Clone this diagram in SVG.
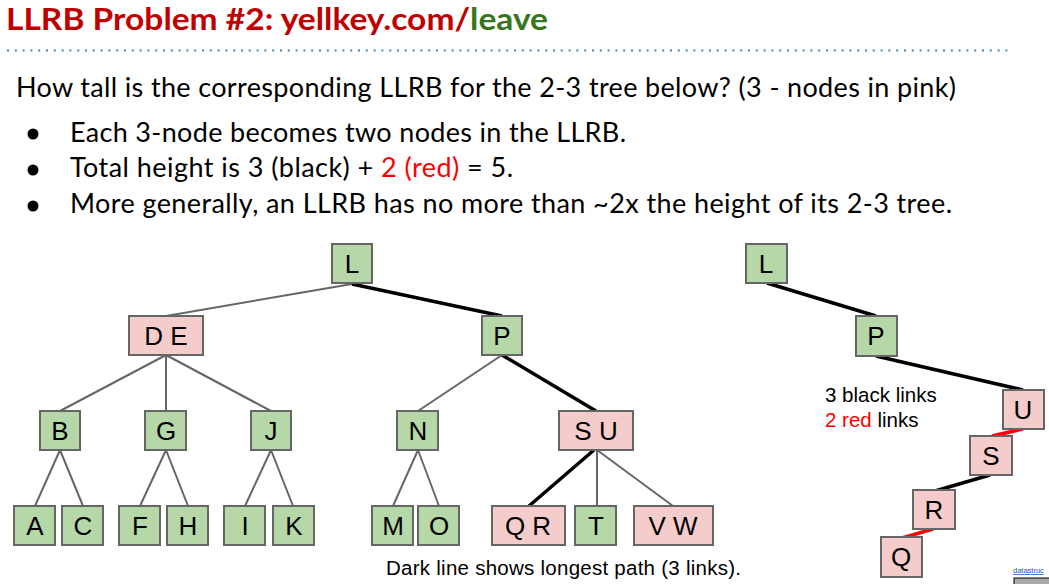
<svg xmlns="http://www.w3.org/2000/svg" width="1049" height="584" viewBox="0 0 1049 584">
<style>
.g{fill:#b6d7a8;stroke:#666;stroke-width:2}
.p{fill:#f4cccc;stroke:#666;stroke-width:2}
.lbl{font-family:"Liberation Sans",Arial,sans-serif;font-size:26px;fill:#000;text-anchor:middle}
.e{stroke:#666;stroke-width:2;fill:none}
.k{stroke:#000;stroke-width:3.5;fill:none}
.r{stroke:#ff0000;stroke-width:3.5;fill:none}
.body{font-family:Lato,"Liberation Sans",sans-serif;font-size:27px;fill:#000}
.note{font-family:"Liberation Sans",Arial,sans-serif;font-size:20.5px;fill:#000}
</style>
<rect width="1049" height="584" fill="#fff"/>
<text x="6" y="30" font-family="Lato,'Liberation Sans',sans-serif" font-weight="bold" font-size="30" textLength="542" lengthAdjust="spacingAndGlyphs"><tspan fill="#c00000">LLRB Problem #2: yellkey.com/</tspan><tspan fill="#38761d">leave</tspan></text>
<line x1="7" y1="50.5" x2="1012" y2="50.5" stroke="#3d85c6" stroke-width="2" stroke-dasharray="2 5.8"/>
<text class="body" x="16" y="97" textLength="940">How tall is the corresponding LLRB for the 2-3 tree below? (3 - nodes in pink)</text>
<g fill="#000"><circle cx="33" cy="134" r="5.5"/><circle cx="33" cy="170" r="5.5"/><circle cx="33" cy="206" r="5.5"/></g>
<text class="body" x="70" y="142" textLength="556">Each 3-node becomes two nodes in the LLRB.</text>
<text class="body" x="70" y="177" textLength="443">Total height is 3 (black) + <tspan fill="#ff0000">2 (red)</tspan> = 5.</text>
<text class="body" x="70" y="213" textLength="882">More generally, an LLRB has no more than ~2x the height of its 2-3 tree.</text>
<g id="connectors">
<line class="e" x1="352" y1="284" x2="166" y2="316"/>
<line class="k" x1="352" y1="284" x2="502" y2="316"/>
<line class="e" x1="166" y1="355" x2="60" y2="411"/>
<line class="e" x1="166" y1="355" x2="166" y2="411"/>
<line class="e" x1="166" y1="355" x2="271" y2="411"/>
<line class="e" x1="502" y1="355" x2="418" y2="411"/>
<line class="k" x1="502" y1="355" x2="596" y2="411"/>
<line class="e" x1="60" y1="450" x2="35" y2="506"/>
<line class="e" x1="60" y1="450" x2="83" y2="506"/>
<line class="e" x1="166" y1="450" x2="140" y2="506"/>
<line class="e" x1="166" y1="450" x2="188" y2="506"/>
<line class="e" x1="271" y1="450" x2="245" y2="506"/>
<line class="e" x1="271" y1="450" x2="293" y2="506"/>
<line class="e" x1="418" y1="450" x2="393" y2="506"/>
<line class="e" x1="418" y1="450" x2="439" y2="506"/>
<line class="k" x1="594" y1="450" x2="529" y2="506"/>
<line class="e" x1="597" y1="450" x2="597" y2="506"/>
<line class="e" x1="597" y1="450" x2="673" y2="506"/>
<line class="k" x1="767" y1="283" x2="876" y2="316"/>
<line class="k" x1="876" y1="356" x2="1023" y2="390"/>
<line class="r" x1="1023" y1="429" x2="992" y2="436"/>
<line class="k" x1="990" y1="475" x2="935" y2="491"/>
<line class="r" x1="933" y1="529" x2="902" y2="538"/>
</g>
<g id="n-L"><rect class="g" x="332" y="244" width="40" height="39"/><text class="lbl" x="352" y="273">L</text></g>
<g id="n-DE"><rect class="p" x="129" y="316" width="74" height="39"/><text class="lbl" x="166" y="345">D E</text></g>
<g id="n-P"><rect class="g" x="482" y="316" width="40" height="39"/><text class="lbl" x="502" y="345">P</text></g>
<g id="n-B"><rect class="g" x="40" y="411" width="40" height="39"/><text class="lbl" x="60" y="440">B</text></g>
<g id="n-G"><rect class="g" x="145" y="411" width="41" height="39"/><text class="lbl" x="166" y="440">G</text></g>
<g id="n-J"><rect class="g" x="251" y="411" width="40" height="39"/><text class="lbl" x="271" y="440">J</text></g>
<g id="n-N"><rect class="g" x="397" y="411" width="41" height="39"/><text class="lbl" x="418" y="440">N</text></g>
<g id="n-SU"><rect class="p" x="559" y="411" width="74" height="39"/><text class="lbl" x="596" y="440">S U</text></g>
<g id="n-A"><rect class="g" x="14" y="506" width="41" height="39"/><text class="lbl" x="35" y="535">A</text></g>
<g id="n-C"><rect class="g" x="62" y="506" width="41" height="39"/><text class="lbl" x="83" y="535">C</text></g>
<g id="n-F"><rect class="g" x="119" y="506" width="41" height="39"/><text class="lbl" x="140" y="535">F</text></g>
<g id="n-H"><rect class="g" x="167" y="506" width="41" height="39"/><text class="lbl" x="188" y="535">H</text></g>
<g id="n-I"><rect class="g" x="224" y="506" width="41" height="39"/><text class="lbl" x="245" y="535">I</text></g>
<g id="n-K"><rect class="g" x="273" y="506" width="41" height="39"/><text class="lbl" x="294" y="535">K</text></g>
<g id="n-M"><rect class="g" x="372" y="506" width="41" height="39"/><text class="lbl" x="393" y="535">M</text></g>
<g id="n-O"><rect class="g" x="418" y="506" width="41" height="39"/><text class="lbl" x="439" y="535">O</text></g>
<g id="n-QR"><rect class="p" x="492" y="506" width="73" height="39"/><text class="lbl" x="528" y="535">Q R</text></g>
<g id="n-T"><rect class="g" x="575" y="506" width="41" height="39"/><text class="lbl" x="596" y="535">T</text></g>
<g id="n-VW"><rect class="p" x="634" y="506" width="79" height="39"/><text class="lbl" x="673" y="535">V W</text></g>
<g id="r-L"><rect class="g" x="746" y="244" width="41" height="39"/><text class="lbl" x="766" y="273">L</text></g>
<g id="r-P"><rect class="g" x="856" y="316" width="41" height="40"/><text class="lbl" x="876" y="345">P</text></g>
<g id="r-U"><rect class="p" x="1003" y="390" width="41" height="39"/><text class="lbl" x="1023" y="419">U</text></g>
<g id="r-S"><rect class="p" x="970" y="436" width="42" height="39"/><text class="lbl" x="991" y="465">S</text></g>
<g id="r-R"><rect class="p" x="913" y="490" width="42" height="39"/><text class="lbl" x="934" y="519">R</text></g>
<g id="r-Q"><rect class="p" x="881" y="537" width="41" height="40"/><text class="lbl" x="901" y="566">Q</text></g>
<text class="note" x="825" y="402">3 black links</text>
<text class="note" x="825" y="427"><tspan fill="#ff0000">2 red</tspan> links</text>
<text class="note" x="386" y="575" textLength="355">Dark line shows longest path (3 links).</text>
<text x="1013" y="573" font-family="'Liberation Sans',Arial,sans-serif" font-size="7.5" fill="#1155cc" text-decoration="underline">datastruc</text>
<rect x="1014" y="578" width="40" height="10" fill="#aaa" stroke="#000" stroke-width="1"/>
</svg>
